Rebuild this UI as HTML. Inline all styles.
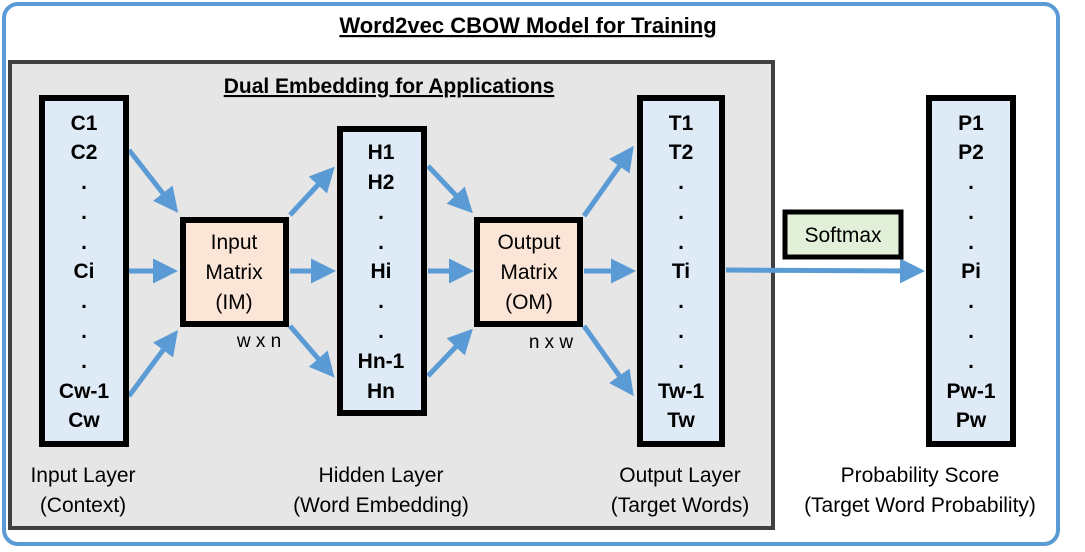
<!DOCTYPE html>
<html><head><style>
body{margin:0;width:1085px;height:547px;background:#fff;overflow:hidden;font-family:"Liberation Sans",sans-serif;}
svg text{font-family:"Liberation Sans",sans-serif;}
</style></head><body>
<svg width="1085" height="547" viewBox="0 0 1085 547">
<defs><marker id="a" markerWidth="5" markerHeight="5" refX="3" refY="2.5" orient="auto"><path d="M0,0 L5,2.5 L0,5 Z" fill="#5b9bd5"/></marker></defs>
<rect x="4" y="4" width="1054" height="540" rx="14" fill="#fff" stroke="#5b9bd5" stroke-width="4"/>
<rect x="10" y="62" width="763" height="466" fill="#e7e6e6" stroke="#404040" stroke-width="4"/>
<text x="528" y="33" font-size="22" font-weight="bold" text-anchor="middle" text-decoration="underline">Word2vec CBOW Model for Training</text>
<text x="389" y="93" font-size="21" font-weight="bold" text-anchor="middle" text-decoration="underline">Dual Embedding for Applications</text>
<g stroke="#5b9bd5" stroke-width="5" fill="none" marker-end="url(#a)">
<line x1="129" y1="150" x2="172" y2="205"/><line x1="129" y1="271" x2="168" y2="271"/><line x1="129" y1="396" x2="172" y2="338"/>
<line x1="290" y1="215" x2="328" y2="174"/><line x1="290" y1="271" x2="326" y2="271"/><line x1="290" y1="326" x2="328" y2="370"/>
<line x1="428" y1="166" x2="466" y2="206"/><line x1="428" y1="271" x2="464" y2="271"/><line x1="428" y1="376" x2="466" y2="336"/>
<line x1="584" y1="216" x2="628" y2="154"/><line x1="584" y1="271" x2="626" y2="271"/><line x1="584" y1="326" x2="628" y2="388"/>
<line x1="726" y1="270" x2="915" y2="271"/>
</g>
<g stroke="#000" stroke-width="6" fill="#deebf7">
<rect x="42" y="98" width="84" height="346"/>
<rect x="340" y="129" width="84" height="284"/>
<rect x="640" y="98" width="82" height="346"/>
<rect x="929" y="98" width="84" height="346"/>
</g>
<g stroke="#000" stroke-width="6" fill="#fbe5d6">
<rect x="183" y="220" width="103" height="104"/>
<rect x="477" y="220" width="103" height="104"/>
</g>
<rect x="785" y="212" width="116" height="45" fill="#e2f0d9" stroke="#000" stroke-width="5"/>
<g font-size="21" font-weight="bold" text-anchor="middle">
<g transform="translate(84,0)"><text y="130">C1</text><text y="159">C2</text><text y="189">.</text><text y="219">.</text><text y="249">.</text><text y="278">Ci</text><text y="308">.</text><text y="338">.</text><text y="368">.</text><text y="398">Cw-1</text><text y="427">Cw</text></g>
<g transform="translate(381,0)"><text y="159">H1</text><text y="189">H2</text><text y="219">.</text><text y="249">.</text><text y="278">Hi</text><text y="308">.</text><text y="338">.</text><text y="368">Hn-1</text><text y="398">Hn</text></g>
<g transform="translate(681,0)"><text y="130">T1</text><text y="159">T2</text><text y="189">.</text><text y="219">.</text><text y="249">.</text><text y="278">Ti</text><text y="308">.</text><text y="338">.</text><text y="368">.</text><text y="398">Tw-1</text><text y="427">Tw</text></g>
<g transform="translate(971,0)"><text y="130">P1</text><text y="159">P2</text><text y="189">.</text><text y="219">.</text><text y="249">.</text><text y="278">Pi</text><text y="308">.</text><text y="338">.</text><text y="368">.</text><text y="398">Pw-1</text><text y="427">Pw</text></g>
</g>
<g font-size="21" text-anchor="middle">
<text x="234" y="249">Input</text><text x="234" y="279">Matrix</text><text x="234" y="309">(IM)</text>
<text x="529" y="249">Output</text><text x="529" y="279">Matrix</text><text x="529" y="309">(OM)</text>
<text x="843" y="242">Softmax</text>
<text x="83" y="482">Input Layer</text><text x="83" y="512">(Context)</text>
<text x="381" y="482">Hidden Layer</text><text x="381" y="512">(Word Embedding)</text>
<text x="680" y="482">Output Layer</text><text x="680" y="512">(Target Words)</text>
<text x="920" y="482">Probability Score</text><text x="920" y="512">(Target Word Probability)</text>
</g>
<g font-size="19" text-anchor="middle"><text x="259" y="347">w x n</text><text x="551" y="348">n x w</text></g>
</svg>
</body></html>
